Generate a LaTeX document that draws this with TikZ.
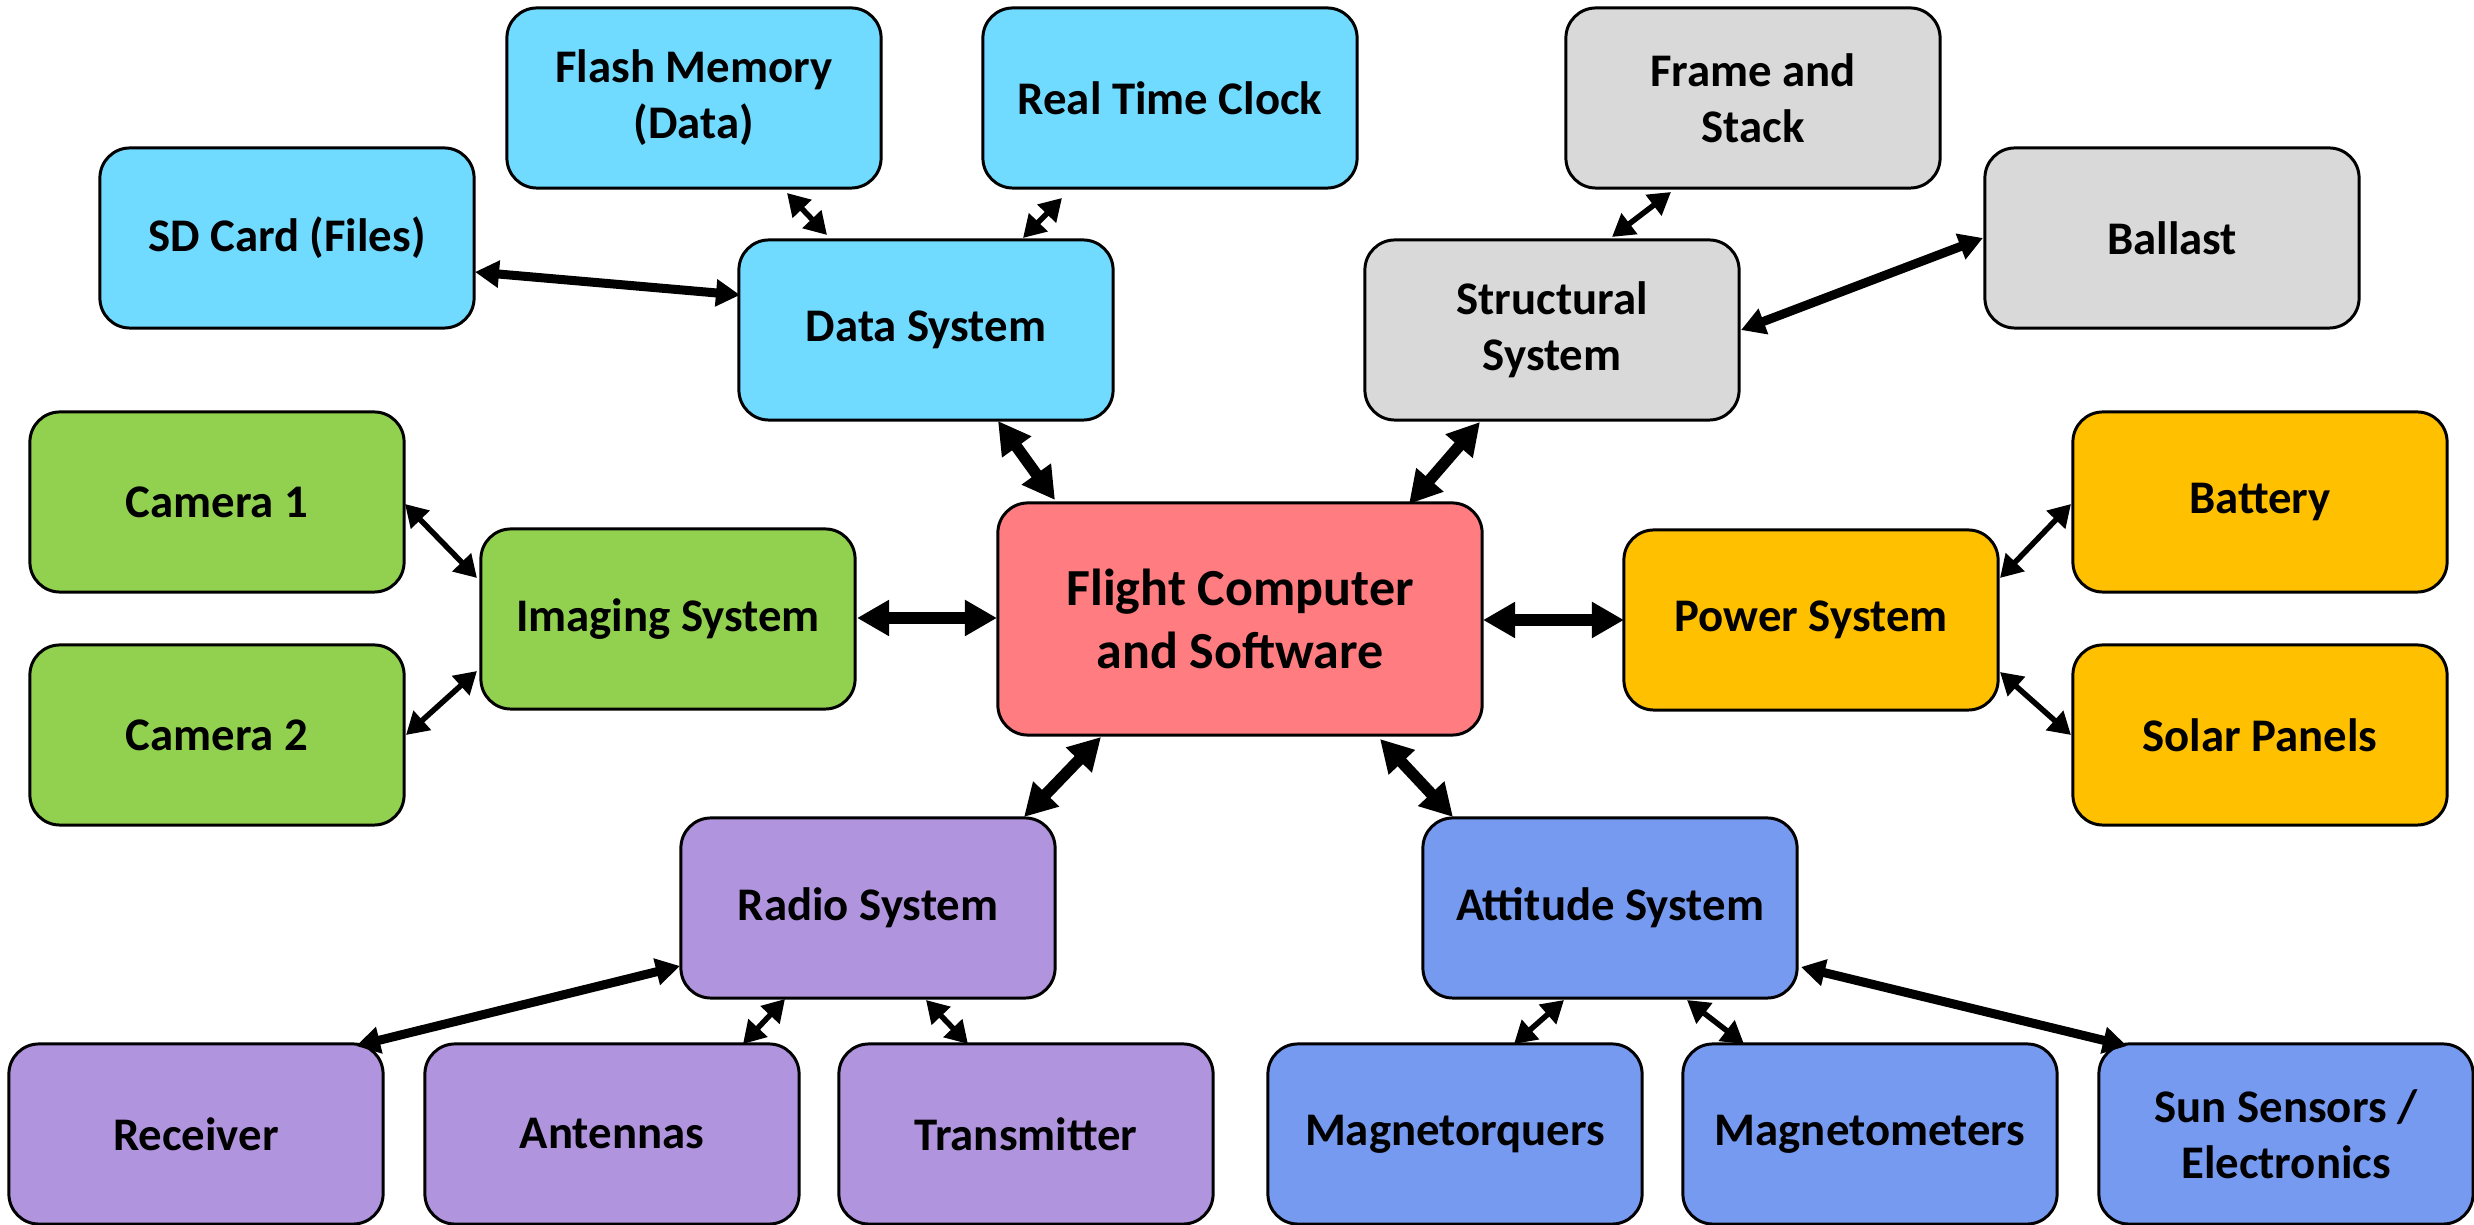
\documentclass[tikz,border=0pt]{standalone}
\usepackage{fontspec}
\setmainfont{Carlito}
\usetikzlibrary{arrows.meta,calc}

% subsystem fill colours
\definecolor{cData}{RGB}{112,218,255}
\definecolor{cStruct}{RGB}{217,217,217}
\definecolor{cImg}{RGB}{146,208,80}
\definecolor{cCore}{RGB}{255,124,128}
\definecolor{cPower}{RGB}{255,192,0}
\definecolor{cRadio}{RGB}{177,148,222}
\definecolor{cAtt}{RGB}{119,154,241}

\begin{document}
\begin{tikzpicture}[x=0.01cm,y=-0.01cm,
  box/.style={draw=black, line width=0.85pt, rounded corners=0.3cm,
    minimum width=3.74cm, minimum height=1.80cm, inner sep=0pt,
    align=center, font=\fontsize{13.3}{16}\selectfont\bfseries},
  core/.style={box, minimum width=4.84cm, minimum height=2.32cm,
    font=\fontsize{14.8}{18}\selectfont\bfseries},
  lnk/.style={line width=0.055cm,
    {Triangle[length=0.22cm,width=0.25cm]}-{Triangle[length=0.22cm,width=0.25cm]}},
  lnkmid/.style={line width=0.09cm,
    {Triangle[length=0.24cm,width=0.26cm]}-{Triangle[length=0.24cm,width=0.26cm]}},
  lnkbig/.style={line width=0.115cm,
    {Triangle[length=0.32cm,width=0.34cm]}-{Triangle[length=0.32cm,width=0.34cm]}}]

\useasboundingbox (0,0) rectangle (2474,1225);

% central node
\node[core, fill=cCore] (fc) at (1240,619) {Flight Computer\\and Software};

% data system
\node[box, fill=cData] (data)  at (926,330) {Data System};
\node[box, fill=cData] (flash) at (694,98)  {Flash Memory\\(Data)};
\node[box, fill=cData] (rtc)   at (1170,98) {Real Time Clock};
\node[box, fill=cData] (sd)    at (287,238) {SD Card (Files)};

% structural system
\node[box, fill=cStruct] (struct)  at (1552,330) {Structural\\System};
\node[box, fill=cStruct] (frame)   at (1753,98)  {Frame and\\Stack};
\node[box, fill=cStruct] (ballast) at (2172,238) {Ballast};

% imaging system
\node[box, fill=cImg] (img)  at (668,619) {Imaging System};
\node[box, fill=cImg] (cam1) at (217,502) {Camera 1};
\node[box, fill=cImg] (cam2) at (217,735) {Camera 2};

% power system
\node[box, fill=cPower] (pwr)   at (1811,620) {Power System};
\node[box, fill=cPower] (bat)   at (2260,502) {Battery};
\node[box, fill=cPower] (solar) at (2260,735) {Solar Panels};

% radio system
\node[box, fill=cRadio] (radio) at (868,908)  {Radio System};
\node[box, fill=cRadio] (rx)    at (196,1134) {Receiver};
\node[box, fill=cRadio] (ant)   at (612,1134) {Antennas};
\node[box, fill=cRadio] (tx)    at (1026,1134) {Transmitter};

% attitude system
\node[box, fill=cAtt] (att)  at (1610,908)  {Attitude System};
\node[box, fill=cAtt] (mtq)  at (1455,1134) {Magnetorquers};
\node[box, fill=cAtt] (mag)  at (1870,1134) {Magnetometers};
\node[box, fill=cAtt] (sun)  at (2286,1134) {Sun Sensors /\\Electronics};

% links to the flight computer
\draw[lnkbig] ($(data.center)+(72,91)$)    -- ($(fc.center)+(-185,-119)$);
\draw[lnkbig] ($(struct.center)+(-72,92)$) -- ($(fc.center)+(169,-115)$);
\draw[lnkbig] ($(img.center)+(189,-1)$)    -- ($(fc.center)+(-243,-1)$);
\draw[lnkbig] ($(fc.center)+(243,1)$)      -- ($(pwr.center)+(-187,0)$);
\draw[lnkbig] ($(fc.center)+(-139,118)$)   -- ($(radio.center)+(156,-91)$);
\draw[lnkbig] ($(fc.center)+(140,120)$)    -- ($(att.center)+(-157,-91)$);

% data system links
\draw[lnkmid] ($(sd.center)+(188,34)$)     -- ($(data.center)+(-186,-35)$);
\draw[lnk]    ($(flash.center)+(93,95)$)   -- ($(data.center)+(-99,-95)$);
\draw[lnk]    ($(rtc.center)+(-108,100)$)  -- ($(data.center)+(97,-92)$);

% structural system links
\draw[lnk]    ($(frame.center)+(-82,94)$)  -- ($(struct.center)+(60,-93)$);
\draw[lnkmid] ($(ballast.center)+(-189,0)$) -- ($(struct.center)+(189,0)$);

% imaging system links
\draw[lnk] ($(cam1.center)+(188,2)$) -- ($(img.center)+(-191,-41)$);
\draw[lnk] ($(cam2.center)+(189,0)$) -- ($(img.center)+(-191,52)$);

% power system links
\draw[lnk] ($(bat.center)+(-189,2)$)   -- ($(pwr.center)+(189,-42)$);
\draw[lnk] ($(solar.center)+(-189,0)$) -- ($(pwr.center)+(189,52)$);

% radio system links
\draw[lnkmid] ($(radio.center)+(-188,58)$) -- ($(rx.center)+(160,-88)$);
\draw[lnk]    ($(radio.center)+(-83,91)$)  -- ($(ant.center)+(131,-90)$);
\draw[lnk]    ($(radio.center)+(58,92)$)   -- ($(tx.center)+(-58,-90)$);

% attitude system links
\draw[lnk]    ($(att.center)+(-46,92)$)  -- ($(mtq.center)+(59,-90)$);
\draw[lnk]    ($(att.center)+(77,92)$)   -- ($(mag.center)+(-126,-90)$);
\draw[lnkmid] ($(att.center)+(191,59)$)  -- ($(sun.center)+(-159,-88)$);

\end{tikzpicture}
\end{document}
